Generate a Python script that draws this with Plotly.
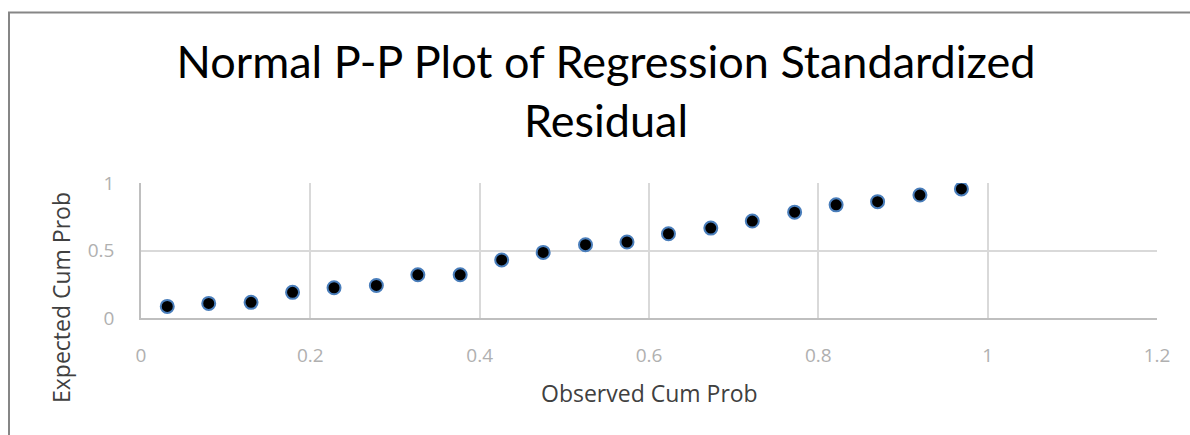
import plotly.graph_objects as go

observed_cum_prob = [0.031, 0.080, 0.130, 0.179, 0.228, 0.278, 0.327, 0.377, 0.426, 0.475,
                     0.525, 0.574, 0.623, 0.673, 0.722, 0.772, 0.821, 0.870, 0.920, 0.969]
expected_cum_prob = [0.086, 0.108, 0.116, 0.190, 0.224, 0.241, 0.320, 0.320, 0.430, 0.486,
                     0.543, 0.563, 0.624, 0.666, 0.718, 0.784, 0.838, 0.862, 0.911, 0.956]
x_ticks = [0, 0.2, 0.4, 0.6, 0.8, 1, 1.2]
x_tick_labels = ["0", "0.2", "0.4", "0.6", "0.8", "1", "1.2"]
y_ticks = [0, 0.5, 1]
y_tick_labels = ["0", "0.5", "1"]

title_text = "Normal P-P Plot of Regression Standardized<br>Residual"
x_title = "Observed Cum Prob"
y_title = "Expected Cum Prob"

fig = go.Figure()
fig.add_trace(go.Scatter(
    x=observed_cum_prob, y=expected_cum_prob, mode="markers",
    marker=dict(size=13, color="black", line=dict(color="#4a7ebb", width=2)),
    showlegend=False, hoverinfo="x+y"))

W, H = 1190, 435
L, R, T, B = 141, 33, 183, 117
pw, ph = W - L - R, H - T - B

tick_font = dict(size=19, color="#b0b0b0", family="Open Sans, sans-serif")

fig.update_layout(
    width=W, height=H,
    margin=dict(l=L, r=R, t=T, b=B),
    paper_bgcolor="white", plot_bgcolor="white",
    font=dict(family="Open Sans, sans-serif"),
    title=dict(text=title_text, x=606 / W, xanchor="center", xref="container",
               y=1 - 78 / H, yanchor="middle",
               font=dict(size=45, color="black", family="Lato, Open Sans, sans-serif")),
    xaxis=dict(range=[0, 1.2], tickvals=x_ticks, ticktext=x_tick_labels,
               showgrid=True, gridcolor="#d9d9d9", gridwidth=1.5,
               showline=True, linecolor="#bfbfbf", linewidth=1.5,
               zeroline=False, ticks="", ticklabelstandoff=19,
               tickfont=tick_font),
    yaxis=dict(range=[0, 1], tickvals=y_ticks, ticktext=y_tick_labels,
               showgrid=True, gridcolor="#d9d9d9", gridwidth=1.5,
               showline=True, linecolor="#bfbfbf", linewidth=1.5,
               zeroline=False, ticks="", ticklabelstandoff=21,
               tickfont=tick_font),
)

fig.add_annotation(text=x_title, xref="paper", yref="paper",
                   x=(649 - L) / pw, y=-(393 - (T + ph)) / ph,
                   xanchor="center", yanchor="middle", showarrow=False,
                   font=dict(size=23, color="#404040", family="Open Sans, sans-serif"))
fig.add_annotation(text=y_title, xref="paper", yref="paper",
                   x=(61 - L) / pw, y=(T + ph - 298) / ph, textangle=-90,
                   xanchor="center", yanchor="middle", showarrow=False,
                   font=dict(size=23, color="#404040", family="Open Sans, sans-serif"))

fig.add_shape(type="rect", xref="paper", yref="paper",
              x0=(9 - L) / pw, x1=(W + 20 - L) / pw,
              y0=-(H + 20 - (T + ph)) / ph, y1=(T + ph - 12.5) / ph,
              line=dict(color="#868686", width=2), fillcolor="rgba(0,0,0,0)", layer="below")

fig.write_html("out.html", config={"displayModeBar": False},
               post_script="document.body.style.margin='0';")
